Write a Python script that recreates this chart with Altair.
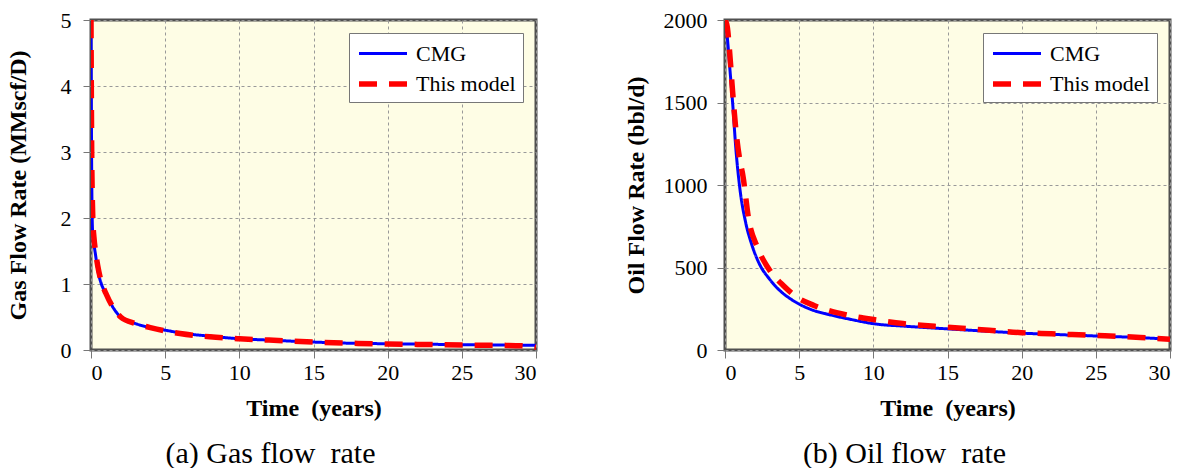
import altair as alt
import pandas as pd

series_names = ["CMG", "This model"]

gas_cmg_t = [0, 0.02, 0.05, 0.08, 0.12, 0.2, 0.3, 0.45, 0.7, 1.0, 1.5, 2.0, 3.0, 4.0, 5.0, 6.0, 8.0, 10, 12, 15, 18, 20, 22, 25, 28, 30]
gas_cmg_v = [5.0, 3.8, 2.6, 2.0, 1.75, 1.6, 1.45, 1.22, 1.0, 0.86, 0.64, 0.5, 0.4, 0.34, 0.3, 0.26, 0.21, 0.17, 0.15, 0.12, 0.1, 0.095, 0.09, 0.08, 0.075, 0.07]
gas_mod_t = [0, 0.02, 0.05, 0.08, 0.12, 0.2, 0.3, 0.45, 0.7, 1.0, 1.5, 2.0, 3.0, 4.0, 5.0, 6.0, 8.0, 10, 12, 15, 18, 20, 22, 25, 28, 29, 30]
gas_mod_v = [5.0, 4.0, 2.9, 2.4, 2.0, 1.7, 1.5, 1.28, 1.03, 0.86, 0.64, 0.5, 0.4, 0.34, 0.29, 0.25, 0.2, 0.17, 0.15, 0.12, 0.1, 0.09, 0.085, 0.075, 0.07, 0.065, 0.04]

oil_cmg_t = [0, 0.1, 0.2, 0.35, 0.5, 0.75, 1.0, 1.4, 1.8, 2.3, 3.0, 3.65, 4.5, 5.9, 7, 8.5, 10.2, 12, 15, 18, 20, 22, 25, 28, 30]
oil_cmg_v = [2000, 1950, 1850, 1680, 1515, 1200, 980, 770, 640, 525, 430, 364, 305, 242, 215, 185, 157, 145, 128, 112, 102, 95, 85, 75, 65]
oil_mod_t = [0, 0.15, 0.3, 0.5, 0.75, 1.0, 1.2, 1.6, 2.2, 3.0, 4.0, 4.8, 6.0, 8.2, 10.2, 12, 15, 18, 20, 22, 25, 28, 30]
oil_mod_v = [2000, 1960, 1820, 1580, 1320, 1150, 1060, 790, 620, 485, 385, 323, 270, 212, 182, 160, 138, 118, 105, 98, 88, 76, 65]

x_ticks = [0, 5, 10, 15, 20, 25, 30]
gas_ticks = [0, 1, 2, 3, 4, 5]
oil_ticks = [0, 500, 1000, 1500, 2000]

FONT = "Liberation Serif"
NB = "\u00a0"


def frame(t1, v1, t2, v2):
    a = pd.DataFrame({"t": t1, "v": v1, "s": series_names[0]})
    b = pd.DataFrame({"t": t2, "v": v2, "s": series_names[1]})
    return pd.concat([a, b], ignore_index=True)


def panel(df, ymax, yticks, ytitle, caption, lab_pad, title_pad):
    base = alt.Chart(df).mark_line(interpolate="monotone", clip=True).encode(
        x=alt.X("t:Q", scale=alt.Scale(domain=[0, 30], nice=False),
                axis=alt.Axis(values=x_ticks, title="Time" + NB + " (years)", format="d")),
        y=alt.Y("v:Q", scale=alt.Scale(domain=[0, ymax], nice=False),
                axis=alt.Axis(values=yticks, title=ytitle, format="d",
                              labelPadding=lab_pad, titlePadding=title_pad)),
        color=alt.Color("s:N", scale=alt.Scale(domain=series_names, range=["#0000FF", "#FF0000"]),
                        legend=alt.Legend(title=None)),
        strokeDash=alt.StrokeDash("s:N", scale=alt.Scale(domain=series_names, range=[[1, 0], [18, 12]]),
                                  legend=alt.Legend(title=None)),
        strokeWidth=alt.StrokeWidth("s:N", scale=alt.Scale(domain=series_names, range=[3, 5.5]),
                                    legend=alt.Legend(title=None)),
        order=alt.Order("s:N"),
    )
    return base.properties(
        width=445, height=330,
        title=alt.TitleParams(caption, orient="bottom", fontSize=30, font=FONT,
                              fontWeight="normal", offset=19, dx=-43, color="black"),
    )


gas = panel(frame(gas_cmg_t, gas_cmg_v, gas_mod_t, gas_mod_v), 5, gas_ticks,
            "Gas Flow Rate (MMscf/D)", "(a) Gas flow" + NB + " rate", 12, 30)
oil = panel(frame(oil_cmg_t, oil_cmg_v, oil_mod_t, oil_mod_v), 2000, oil_ticks,
            "Oil Flow Rate (bbl/d)", "(b) Oil flow" + NB + " rate", 10, 15)

chart = alt.hconcat(gas, oil, spacing=84).resolve_scale(
    x="independent", y="independent", color="independent",
    strokeDash="independent", strokeWidth="independent"
).resolve_legend(color="independent", strokeDash="independent", strokeWidth="independent").configure(
    padding={"left": 4, "top": 7, "right": 5, "bottom": 5},
    background="white",
).configure_view(
    fill="#FEFDE5", stroke="#505050", strokeWidth=3,
).configure_axis(
    labelFont=FONT, labelFontSize=22, labelColor="black",
    titleFont=FONT, titleFontSize=24, titleFontWeight="bold", titleColor="black",
    tickColor="#777", tickSize=8, domain=False,
    grid=True, gridColor="#999", gridDash=[3, 3], gridWidth=1,
).configure_axisX(titlePadding=13, labelPadding=4).configure_legend(
    orient="top-right", offset=13, fillColor="white", strokeColor="#777",
    padding=7, labelFont=FONT, labelFontSize=22, labelColor="black",
    symbolType="M-1,0H3", symbolSize=576, rowPadding=4, labelOffset=30,
)

chart.save("out.html", embed_options={"renderer": "svg", "actions": False})
